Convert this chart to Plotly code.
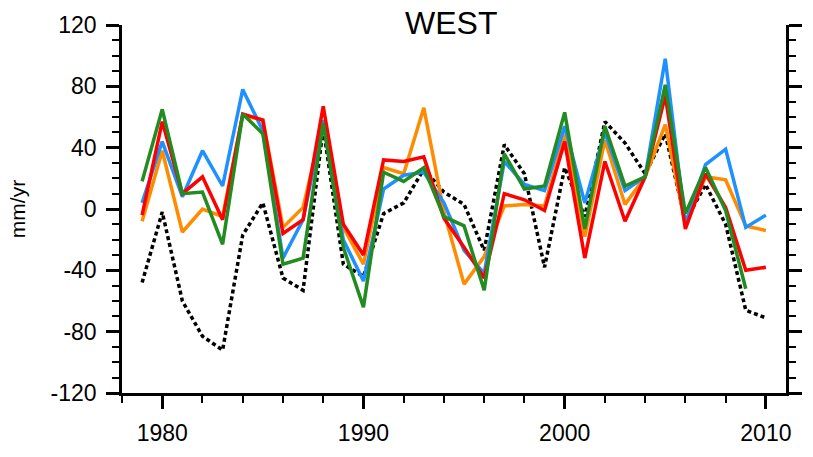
import plotly.graph_objects as go

years = list(range(1979, 2011))

blue = [4, 44, 8, 38, 15, 78, 51, -32, -7, 58, -20, -47, 13, 22, 24, 4, -27, -42, 31, 16, 12, 54, 4, 50, 12, 21, 98, -10, 29, 39, -12, -4]
red = [-4, 57, 10, 21, -7, 62, 58, -16, -7, 67, -10, -30, 32, 31, 34, -6, -25, -45, 10, 6, -1, 44, -32, 31, -8, 21, 74, -13, 23, 1, -40, -38]
orange = [-8, 38, -15, 0, -5, 61, 58, -12, 1, 57, -12, -36, 27, 23, 66, -2, -49, -31, 2, 3, 2, 49, -18, 45, 3, 21, 55, -10, 21, 19, -11, -14]
green = [18, 65, 10, 11, -23, 62, 49, -36, -32, 56, -25, -64, 24, 18, 27, -5, -11, -53, 36, 13, 15, 63, -13, 54, 15, 21, 81, -3, 27, -1, -52, None]
black = [-48, -2, -60, -83, -92, -17, 4, -45, -53, 53, -36, -44, -3, 4, 26, 11, 3, -27, 42, 23, -38, 27, -5, 57, 43, 23, 49, -8, 16, -10, -66, -71]

series = [
    ("obs", black, "black", "4px,3px", 3.5),
    ("orange", orange, "#FF8C00", "solid", 3.5),
    ("blue", blue, "#1E90FF", "solid", 3.5),
    ("red", red, "#FF0000", "solid", 3.5),
    ("green", green, "#228B22", "solid", 3.5),
]

fig = go.Figure()
for name, vals, col, dash, w in series:
    fig.add_trace(go.Scatter(x=years, y=vals, mode="lines", name=name,
                             line=dict(color=col, width=w, dash=dash),
                             connectgaps=False, showlegend=False))

font = "Liberation Sans, Arial, Helvetica, sans-serif"
fig.update_layout(
    width=813, height=457,
    margin=dict(l=122, r=27, t=25, b=64),
    paper_bgcolor="white", plot_bgcolor="white",
    font=dict(family=font, color="black", size=23),
    title=dict(text="WEST", x=0.555, xanchor="center", y=0.95, yanchor="middle",
               font=dict(size=32, family=font, color="black")),
    xaxis=dict(range=[1978, 2011], showgrid=False, zeroline=False,
               showline=True, linecolor="black", linewidth=2.5, mirror=False,
               ticks="outside", ticklen=13, tickwidth=2.5, tickcolor="black",
               tickvals=[1980, 1990, 2000, 2010], ticktext=["1980", "1990", "2000", "2010"],
               tickfont=dict(size=23), ticklabelstandoff=5,
               minor=dict(ticks="outside", ticklen=7, tickwidth=2, tickcolor="black",
                          dtick=2, tick0=1978, showgrid=False)),
    yaxis=dict(range=[-120, 120], showgrid=False, zeroline=False,
               showline=True, linecolor="black", linewidth=2.5, mirror="ticks",
               ticks="outside", ticklen=13, tickwidth=2.5, tickcolor="black",
               tickvals=[-120, -80, -40, 0, 40, 80, 120],
               ticktext=["-120", "-80", "-40", "0", "40", "80", "120"],
               tickfont=dict(size=23), ticklabelstandoff=5,
               title=dict(text="mm/yr", font=dict(size=21), standoff=20),
               minor=dict(ticks="outside", ticklen=7, tickwidth=2, tickcolor="black",
                          dtick=10, tick0=0, showgrid=False)),
)

fig.write_html("out.html")
